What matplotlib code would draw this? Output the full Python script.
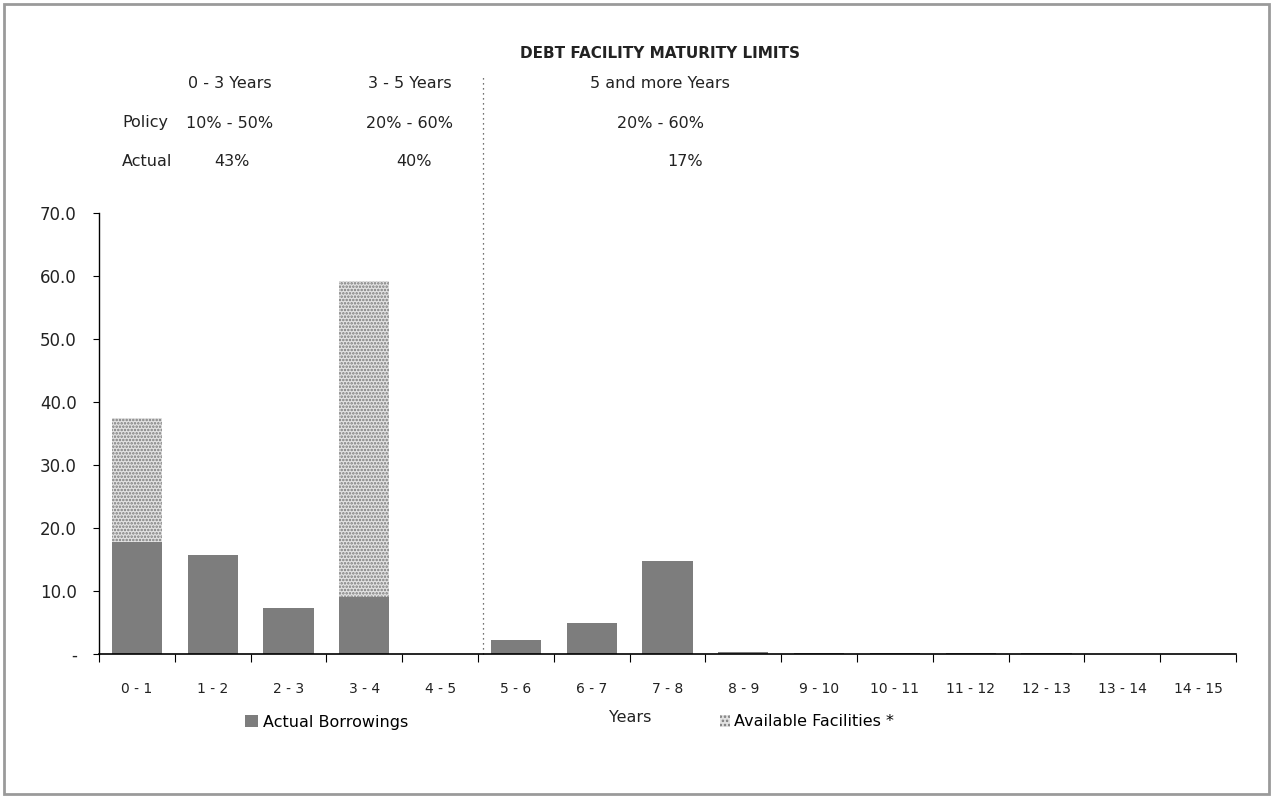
import matplotlib
matplotlib.use('Agg')
import matplotlib.pyplot as plt
from matplotlib.patches import Rectangle, Patch
import numpy as np

W, H = 1273, 798

# maturity buckets
buckets = ['0 - 1', '1 - 2', '2 - 3', '3 - 4', '4 - 5', '5 - 6', '6 - 7', '7 - 8',
           '8 - 9', '9 - 10', '10 - 11', '11 - 12', '12 - 13', '13 - 14', '14 - 15']
actual = [17.8, 15.7, 7.3, 9.0, 0.0, 2.2, 4.9, 14.8, 0.3, 0.1, 0.2, 0.1, 0.2, 0.0, 0.0]
available = [19.7, 0.0, 0.0, 50.2, 0.0, 0.0, 0.0, 0.0, 0.0, 0.0, 0.0, 0.0, 0.0, 0.0, 0.0]
yticks = [0, 10, 20, 30, 40, 50, 60, 70]

# header table
groups = ['0 - 3 Years', '3 - 5 Years', '5 and more Years']
policy = ['10% - 50%', '20% - 60%', '20% - 60%']
actual_pct = ['43%', '40%', '17%']
divider = 5.07

plt.rcParams['font.family'] = ['DejaVu Sans']
plt.rcParams['hatch.linewidth'] = 1.2

def px(x, y):
    return x / W, 1 - y / H

fig = plt.figure(figsize=(W / 100, H / 100), dpi=100)
ax = fig.add_axes([99 / W, 1 - 654 / H, (1236 - 99) / W, (654 - 213) / H])

xpos = np.arange(len(buckets)) + 0.5
ax.bar(xpos, actual, width=0.66, color='#7d7d7d', linewidth=0)
ax.bar(xpos, available, width=0.66, bottom=actual, facecolor='#e2e2e2',
       edgecolor='#7a7a7a', hatch='.....', linewidth=0)

ax.set_xlim(0, len(buckets))
ax.set_ylim(0, 70)
ax.set_yticks(yticks)
ax.set_yticklabels(['-' if v == 0 else '%.1f' % v for v in yticks], fontsize=12, color='#222')
ax.tick_params(axis='y', direction='out', length=4, pad=12, width=0.8)

ax.set_xticks(np.arange(len(buckets) + 1))
ax.set_xticklabels([])
ax.set_xticks(xpos, minor=True)
ax.set_xticklabels(buckets, minor=True, fontsize=10, color='#222')
ax.tick_params(axis='x', which='major', direction='out', length=6, width=0.8)
ax.tick_params(axis='x', which='minor', length=0, pad=20)

for s in ['top', 'right']:
    ax.spines[s].set_visible(False)
ax.spines['left'].set_linewidth(1.0)
ax.spines['bottom'].set_linewidth(1.2)

# policy divider line
ax.plot([divider, divider], [0, 92], color='#444', linestyle=(0, (1, 3)),
        linewidth=0.9, clip_on=False)

# header text
fig.text(*px(660, 53), 'DEBT FACILITY MATURITY LIMITS', ha='center', va='center',
         fontsize=11, fontweight='bold', color='#222')
hx = [230, 410, 660]
px_act = [232, 414, 685]
for i in range(3):
    fig.text(*px(hx[i], 83), groups[i], ha='center', va='center', fontsize=11.5, color='#222')
    fig.text(*px(hx[i], 123), policy[i], ha='center', va='center', fontsize=11.5, color='#222')
    fig.text(*px(px_act[i], 162), actual_pct[i], ha='center', va='center', fontsize=11.5, color='#222')
fig.text(*px(168, 123), 'Policy', ha='right', va='center', fontsize=11.5, color='#222')
fig.text(*px(172, 162), 'Actual', ha='right', va='center', fontsize=11.5, color='#222')

# axis title and legends
fig.text(*px(630, 717), 'Years', ha='center', va='center', fontsize=11.5, color='#222')
h1 = Patch(facecolor='#7d7d7d', linewidth=0)
h2 = Patch(facecolor='#e2e2e2', edgecolor='#7a7a7a', hatch='....', linewidth=0)
fig.legend([h1], ['Actual Borrowings'], loc='center left', bbox_to_anchor=px(245, 722),
           frameon=False, handlelength=0.8, handleheight=0.8, handletextpad=0.3,
           fontsize=11.5, borderpad=0, borderaxespad=0)
fig.legend([h2], ['Available Facilities *'], loc='center left', bbox_to_anchor=px(720, 722),
           frameon=False, handlelength=0.6, handleheight=0.8, handletextpad=0.3,
           fontsize=11.5, borderpad=0, borderaxespad=0)

# outer frame
fig.patches.append(Rectangle(px(4, 794), (1269 - 4) / W, (794 - 4) / H,
                             transform=fig.transFigure, fill=False,
                             edgecolor='#9a9a9a', linewidth=2))

fig.savefig('out.png', dpi=100)
